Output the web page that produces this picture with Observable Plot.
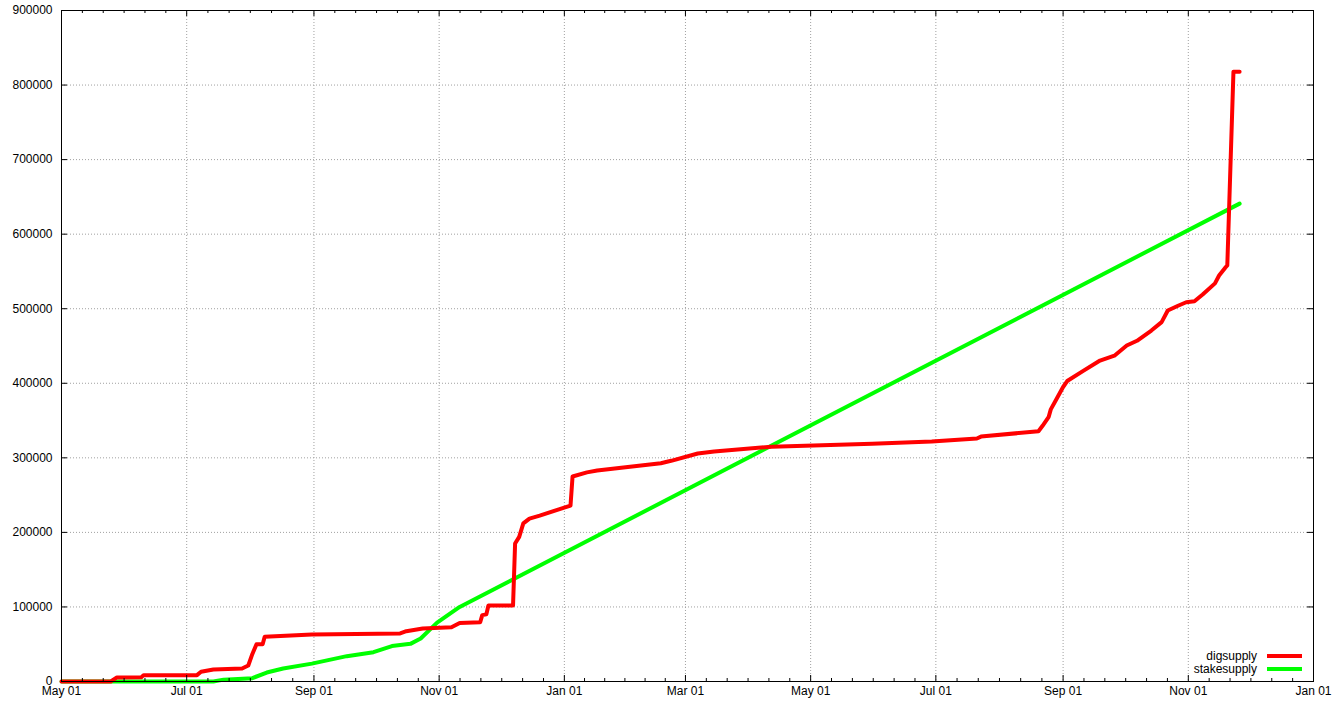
<!DOCTYPE html>
<html><head><meta charset="utf-8">
<script src="https://cdn.jsdelivr.net/npm/d3@7"></script>
<script src="https://cdn.jsdelivr.net/npm/@observablehq/plot@0.6"></script>
<style>
body{margin:0;background:#fff}
#wrap{position:relative;width:1342px;height:706px;font-family:'Liberation Sans',Arial,sans-serif;font-size:12px}
.leg{position:absolute;right:0;height:14px;display:flex;align-items:center}
.leg span{display:block;text-align:right;width:200px;color:#000}
.leg i{display:block;width:35px;height:4px;margin-left:10px}
</style>
</head><body><div id="wrap"></div>
<script>
// digsupply series
const digDates = ["2013-05-01","2013-05-25","2013-05-28","2013-06-09","2013-06-10","2013-07-06","2013-07-08","2013-07-14","2013-07-28","2013-07-31","2013-08-02","2013-08-04","2013-08-07","2013-08-08","2013-08-31","2013-10-13","2013-10-16","2013-10-24","2013-11-07","2013-11-11","2013-11-21","2013-11-22","2013-11-24","2013-11-25","2013-12-07","2013-12-08","2013-12-10","2013-12-12","2013-12-15","2013-12-20","2014-01-04","2014-01-05","2014-01-12","2014-01-17","2014-02-02","2014-02-17","2014-02-22","2014-03-07","2014-03-15","2014-04-12","2014-05-31","2014-06-29","2014-07-21","2014-07-23","2014-08-20","2014-08-22","2014-08-25","2014-08-26","2014-08-29","2014-09-01","2014-09-03","2014-09-11","2014-09-19","2014-09-26","2014-10-02","2014-10-07","2014-10-14","2014-10-19","2014-10-22","2014-10-27","2014-10-31","2014-11-04","2014-11-08","2014-11-14","2014-11-16","2014-11-19","2014-11-20","2014-11-23","2014-11-26"];
const digValues = [0,0,5500,5800,8500,8500,13000,16000,17500,21500,37000,50000,50000,60000,63000,64500,67500,71000,72800,78500,79500,89000,90000,102000,102000,185000,194000,212000,218500,222500,236000,275000,280500,283000,288000,292800,296000,305800,308500,315000,319000,322000,326000,328500,335700,343000,355000,365000,380000,395000,403000,417000,430500,437000,450600,457000,470700,482000,497600,504000,508700,510000,519000,534000,544500,555000,558000,818000,818000];
// stakesupply series
const stakeDates = ["2013-05-01","2013-07-14","2013-07-19","2013-08-02","2013-08-09","2013-08-17","2013-08-31","2013-09-17","2013-09-30","2013-10-09","2013-10-18","2013-10-23","2013-10-31","2013-11-11","2014-11-26"];
const stakeValues = [0,0,2500,4500,12000,17500,24000,34000,39300,47500,50500,57600,79000,100000,641000];
// axes
const yTicks = [0,100000,200000,300000,400000,500000,600000,700000,800000,900000];
const xTickDates = ["2013-05-01","2013-07-01","2013-09-01","2013-11-01","2014-01-01","2014-03-01","2014-05-01","2014-07-01","2014-09-01","2014-11-01","2015-01-01"];
const xTickLabels = ["May 01","Jul 01","Sep 01","Nov 01","Jan 01","Mar 01","May 01","Jul 01","Sep 01","Nov 01","Jan 01"];
const seriesNames = ["digsupply","stakesupply"];
const seriesColors = ["#ff0000","#00ff00"];

const parse = d3.utcParse("%Y-%m-%d");
const dig = digDates.map((d,i)=>({date:parse(d),value:digValues[i]}));
const stake = stakeDates.map((d,i)=>({date:parse(d),value:stakeValues[i]}));
const major = xTickDates.map(parse);
const labelMap = new Map(major.map((d,i)=>[+d,xTickLabels[i]]));
const minor = [];
for(let i=0;i<major.length-1;i++){
  for(let k=1;k<6;k++) minor.push(new Date(+major[i]+(major[i+1]-major[i])*k/6));
}
const W=1342,H=706,mL=61,mR=29,mT=10,mB=25;
const pw=W-mL-mR, ph=H-mT-mB;
const grid={stroke:"#a0a0a0",strokeOpacity:1,strokeDasharray:"1,2",strokeWidth:1};
const tk={stroke:"#000",strokeWidth:1};
const chart = Plot.plot({
  width:W,height:H,marginLeft:mL,marginRight:mR,marginTop:mT,marginBottom:mB,
  style:{fontFamily:"'Liberation Sans',Arial,sans-serif",fontSize:"12px",color:"#000",background:"#fff",overflow:"visible"},
  x:{type:"utc",domain:[major[0],major[major.length-1]]},
  y:{domain:[0,900000]},
  marks:[
    Plot.ruleX(major,{...grid}),
    Plot.ruleY(yTicks,{...grid}),
    Plot.line(stake,{x:"date",y:"value",stroke:seriesColors[1],strokeWidth:4}),
    Plot.line(dig,{x:"date",y:"value",stroke:seriesColors[0],strokeWidth:4}),
    Plot.frame({stroke:"#000",strokeWidth:1}),
    Plot.ruleX(major,{...tk,insetTop:ph-6}),
    Plot.ruleX(major,{...tk,insetBottom:ph-6}),
    Plot.ruleX(minor,{...tk,insetTop:ph-3}),
    Plot.ruleX(minor,{...tk,insetBottom:ph-3}),
    Plot.ruleY(yTicks,{...tk,insetRight:pw-6}),
    Plot.ruleY(yTicks,{...tk,insetLeft:pw-6}),
    Plot.axisX(major,{tickSize:0,tickPadding:5,tickFormat:d=>labelMap.get(+d),label:null}),
    Plot.axisY(yTicks,{tickSize:0,tickPadding:9,tickFormat:d=>String(d),label:null})
  ]
});
const wrap=document.getElementById("wrap");
wrap.appendChild(chart);
seriesNames.forEach((n,i)=>{
  const div=document.createElement("div");
  div.className="leg";
  div.style.top=(649+i*13)+"px";
  div.style.right=(1342-1302)+"px";
  div.innerHTML=`<span>${n}</span><i style="background:${seriesColors[i]}"></i>`;
  wrap.appendChild(div);
});
</script>
</body></html>
